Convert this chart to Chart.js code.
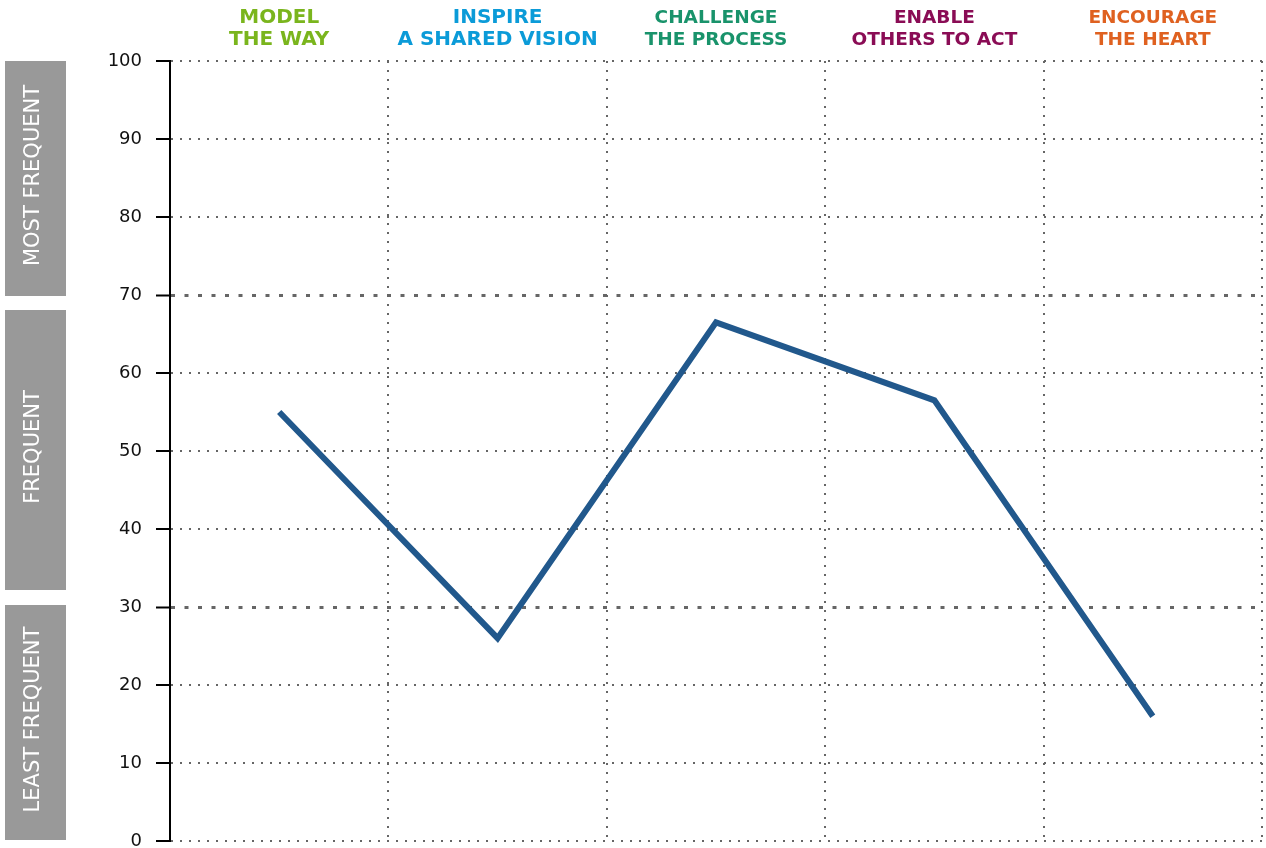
<!DOCTYPE html>
<html>
<head>
<meta charset="utf-8">
<title>Leadership practices</title>
<script src="https://cdn.jsdelivr.net/npm/chart.js@4.4.1/dist/chart.umd.min.js"></script>
<style>
  html, body { margin: 0; padding: 0; background: #fff; }
  #wrap { width: 1266px; height: 848px; }
</style>
</head>
<body>
<div id="wrap"><canvas id="chart"></canvas></div>
<script>
// ---- data ----
const practices = [
    ['MODEL', 'THE WAY'],
    ['INSPIRE', 'A SHARED VISION'],
    ['CHALLENGE', 'THE PROCESS'],
    ['ENABLE', 'OTHERS TO ACT'],
    ['ENCOURAGE', 'THE HEART']
];
const practiceColors = ['#7ab51d', '#0b9bd8', '#19936b', '#8a0c55', '#df6120'];
const scores = [55, 26, 66.5, 56.5, 16];

const bandLabels = ['MOST FREQUENT', 'FREQUENT', 'LEAST FREQUENT'];
const bandLimits = [[70, 100], [30, 70], [0, 30]];
const bandBorders = [30, 70];

// ---- grey boxes on the left with the rotated band names ----
const bandPlugin = {
    id: 'bands',
    afterDraw(chart) {
        const { ctx, scales: { y } } = chart;
        const nudges = [[0, 1], [15, -17], [-2, -1]]; // small top/bottom offsets per box
        ctx.save();
        bandLimits.forEach(([lo, hi], i) => {
            const top = y.getPixelForValue(hi) + nudges[i][0];
            const bottom = y.getPixelForValue(lo) + nudges[i][1];
            ctx.fillStyle = '#999999';
            ctx.fillRect(5, top, 61, bottom - top);

            ctx.save();
            ctx.translate(34, (top + bottom) / 2 - 3);
            ctx.rotate(-Math.PI / 2);
            ctx.fillStyle = '#ffffff';
            ctx.font = '21px "DejaVu Sans"';
            ctx.textAlign = 'center';
            ctx.textBaseline = 'middle';
            ctx.fillText(bandLabels[i], 0, 0);
            ctx.restore();
        });
        ctx.restore();
    }
};

const isBorder = c => c.tick && bandBorders.includes(c.tick.value);

new Chart(document.getElementById('chart'), {
    type: 'line',
    data: {
        labels: practices,
        datasets: [{
            data: scores,
            borderColor: '#21588c',
            borderWidth: 6,
            pointRadius: 0,
            pointHoverRadius: 0,
            tension: 0,
            fill: false
        }]
    },
    options: {
        responsive: true,
        maintainAspectRatio: false,
        animation: false,
        layout: { padding: { top: 0, left: 0, right: 4, bottom: 7 } },
        plugins: {
            legend: { display: false },
            tooltip: { enabled: false }
        },
        scales: {
            x: {
                position: 'top',
                offset: true,
                grid: {
                    offset: true,
                    color: '#666666',
                    lineWidth: 2,
                    drawTicks: false
                },
                border: { display: false, dash: [2, 7] },
                ticks: {
                    padding: 10,
                    crossAlign: 'far',
                    maxRotation: 0,
                    autoSkip: false,
                    color: c => practiceColors[c.index],
                    font: c => ({
                        family: '"DejaVu Sans"',
                        weight: 'bold',
                        size: c.index < 2 ? 20 : 18.5,
                        lineHeight: c.index < 2 ? 1.1 : 1.18
                    })
                },
                afterFit: s => {
                    s.height = 61;
                    s.paddingLeft = 0;
                    s.paddingRight = 0;
                }
            },
            y: {
                min: 0,
                max: 100,
                ticks: {
                    stepSize: 10,
                    padding: 14,
                    color: '#111111',
                    font: { family: '"DejaVu Sans"', size: 18 }
                },
                grid: {
                    color: '#666666',
                    lineWidth: c => isBorder(c) ? 3 : 2,
                    tickColor: '#000000',
                    tickWidth: 2,
                    tickLength: 14,
                    tickBorderDash: []
                },
                border: {
                    color: '#000000',
                    width: 2,
                    dash: c => isBorder(c) ? [4, 9.5] : [2, 7]
                },
                afterFit: s => {
                    s.width = 170;
                    s.paddingTop = 0;
                    s.paddingBottom = 0;
                }
            }
        }
    },
    plugins: [bandPlugin]
});
</script>
</body>
</html>
